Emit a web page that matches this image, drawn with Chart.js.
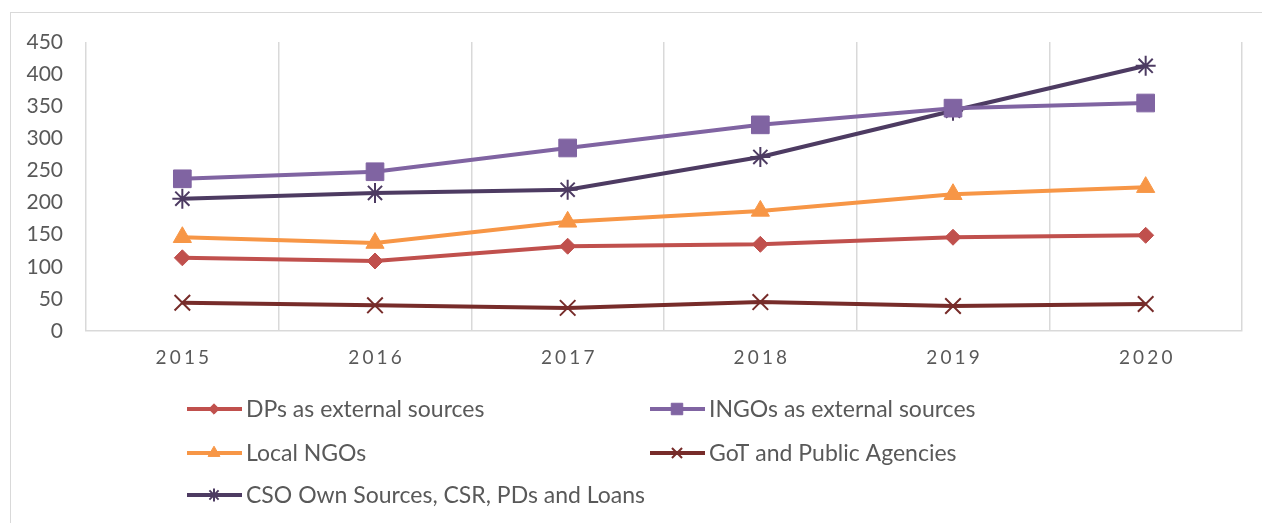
<!DOCTYPE html>
<html>
<head>
<meta charset="utf-8">
<script src="https://cdn.jsdelivr.net/npm/chart.js@4.4.0/dist/chart.umd.min.js"></script>
<style>
    html, body { margin: 0; padding: 0; background: #fff; }
    body { width: 1262px; height: 523px; overflow: hidden; position: relative; }
    #marco { position: absolute; left: 10px; top: 12px; width: 1262px; height: 520px; border: 1px solid #d9d9d9; }
    #contenedor { position: absolute; left: 0; top: 0; width: 1262px; height: 523px; }
</style>
</head>
<body>
<div id="marco"></div>
<div id="contenedor"><canvas id="grafica" width="1262" height="523"></canvas></div>
<script>
    const anios = ['2015', '2016', '2017', '2018', '2019', '2020'];
    const dpsExternos = [114, 109, 132, 135, 146, 149];
    const ingosExternos = [237, 248, 285, 321, 347, 355];
    const ongLocales = [146, 137, 170, 187, 213, 224];
    const gobierno = [44, 40, 36, 45, 39, 42];
    const fuentesPropias = [206, 215, 220, 271, 343, 413];
    const ticksY = [0, 50, 100, 150, 200, 250, 300, 350, 400, 450];

    const fuente = 'Lato, "Open Sans", sans-serif';
    const gris = '#595959';

    // leyenda en dos columnas, como la de Excel
    const leyendaExcel = {
        id: 'leyendaExcel',
        afterDraw(chart) {
            const ctx = chart.ctx;
            const columnas = [187, 650];
            const filas = [409, 453, 495];
            chart.data.datasets.forEach((ds, i) => {
                const x = columnas[i % 2];
                const y = filas[Math.floor(i / 2)];
                ctx.save();
                ctx.strokeStyle = ds.borderColor;
                ctx.lineWidth = 4;
                ctx.beginPath();
                ctx.moveTo(x, y);
                ctx.lineTo(x + 55, y);
                ctx.stroke();
                ctx.fillStyle = ds.pointBackgroundColor;
                ctx.strokeStyle = ds.pointBorderColor;
                ctx.lineWidth = ds.pointBorderWidth;
                Chart.helpers.drawPoint(ctx, {
                    pointStyle: ds.pointStyle,
                    radius: ds.pointRadius * 0.65,
                    borderWidth: ds.pointBorderWidth,
                    rotation: 0
                }, x + 27, y);
                ctx.fillStyle = gris;
                ctx.font = '23px ' + fuente;
                ctx.textBaseline = 'middle';
                ctx.textAlign = 'left';
                ctx.fillText(ds.label, x + 59, y + 1);
                ctx.restore();
            });
        }
    };

    function serie(label, data, color, estilo, radio, borde) {
        return {
            label: label,
            data: data,
            borderColor: color,
            backgroundColor: color,
            borderWidth: 4,
            pointStyle: estilo,
            pointRadius: radio,
            pointHoverRadius: radio,
            pointBackgroundColor: color,
            pointBorderColor: color,
            pointBorderWidth: borde,
            tension: 0
        };
    }

    const grafica = document.querySelector('#grafica');

    new Chart(grafica, {
        type: 'line',
        data: {
            labels: anios,
            datasets: [
                serie('DPs as external sources', dpsExternos, '#c0504d', 'rectRot', 8, 1),
                serie('INGOs as external sources', ingosExternos, '#8064a2', 'rect', 12.5, 1),
                serie('Local NGOs', ongLocales, '#f79646', 'triangle', 10.5, 1),
                serie('GoT and Public Agencies', gobierno, '#772c2a', 'crossRot', 11, 2),
                serie('CSO Own Sources, CSR, PDs and Loans', fuentesPropias, '#4d3b62', 'star', 10, 2)
            ]
        },
        options: {
            responsive: false,
            animation: false,
            devicePixelRatio: 1,
            layout: {
                padding: { top: 42, right: 20, bottom: 150, left: 0 }
            },
            scales: {
                x: {
                    offset: true,
                    grid: { display: true, offset: true, color: '#d9d9d9', lineWidth: 1.5, drawTicks: false },
                    border: { display: true, color: '#d9d9d9', width: 1.5 },
                    ticks: {
                        color: gris,
                        font: { family: fuente, size: 19 },
                        padding: 15,
                        maxRotation: 0,
                        callback: function(valor, indice) {
                            return anios[indice].split('').join('\u2006');
                        }
                    },
                    afterFit: function(escala) { escala.height = 42; }
                },
                y: {
                    min: 0,
                    max: 450,
                    afterBuildTicks: function(escala) {
                        escala.ticks = ticksY.map(v => ({ value: v }));
                    },
                    grid: { display: false, drawTicks: false },
                    border: { display: false },
                    ticks: {
                        color: gris,
                        font: { family: fuente, size: 21 },
                        padding: 23
                    },
                    afterFit: function(escala) { escala.width = 86; }
                }
            },
            plugins: {
                legend: { display: false },
                tooltip: { enabled: false }
            }
        },
        plugins: [leyendaExcel]
    });
</script>
</body>
</html>
